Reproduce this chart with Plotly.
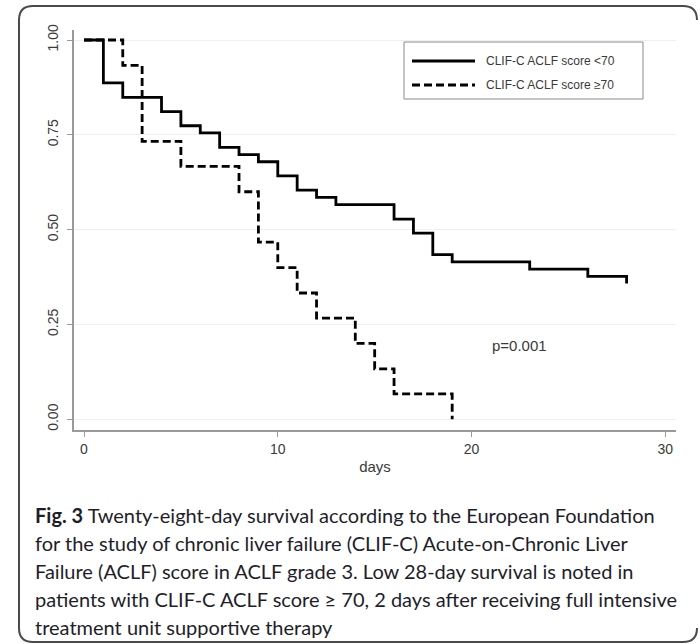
import plotly.graph_objects as go

# ---- data ----
days_low = [0, 1, 2, 4, 5, 6, 7, 8, 9, 10, 11, 12, 13, 16, 17, 18, 19, 23, 26, 28]
surv_low = [1.0, 0.887, 0.849, 0.811, 0.774, 0.755, 0.717, 0.698, 0.679, 0.642,
            0.604, 0.585, 0.566, 0.528, 0.491, 0.434, 0.415, 0.396, 0.377, 0.358]
days_high = [0, 2, 3, 5, 8, 9, 10, 11, 12, 14, 15, 16, 19]
surv_high = [1.0, 0.933, 0.733, 0.667, 0.600, 0.467, 0.400, 0.333, 0.267, 0.200,
             0.133, 0.067, 0.0]
series_names = ["CLIF-C ACLF score <70", "CLIF-C ACLF score \u226570"]
x_ticks = [0, 10, 20, 30]
y_ticks = [0, 0.25, 0.5, 0.75, 1.0]
y_tick_labels = ["0.00", "0.25", "0.50", "0.75", "1.00"]
p_text = "p=0.001"
caption_lines = [
    "<b>Fig. 3</b> Twenty-eight-day survival according to the European Foundation",
    "for the study of chronic liver failure (CLIF-C) Acute-on-Chronic Liver",
    "Failure (ACLF) score in ACLF grade 3. Low 28-day survival is noted in",
    "patients with CLIF-C ACLF score \u2265 70, 2 days after receiving full intensive",
    "treatment unit supportive therapy",
]

W, H = 700, 644
L, R, T, B = 74, 24, 30, 214
PW, PH = W - L - R, H - T - B


def px(x):
    return (x - L) / PW


def py(y):
    return (H - B - y) / PH


TXT = "#3a3a3a"
AX = "#9a9a9a"
FONT = "Liberation Sans, Arial, sans-serif"

fig = go.Figure()
fig.add_trace(go.Scatter(x=days_low, y=surv_low, mode="lines", line_shape="hv",
                         line=dict(color="black", width=2.8), name=series_names[0],
                         showlegend=False))
fig.add_trace(go.Scatter(x=days_high, y=surv_high, mode="lines", line_shape="hv",
                         line=dict(color="black", width=2.8, dash="8px,4px"),
                         name=series_names[1], showlegend=False))

shapes = []
# outer rounded frame (right edge cut by the image border)
l, t, r_, b = 19, 6, 697, 642
rad = 14
pts = [
    ("M", (r_, t + rad)), ("Q", (r_, t), (r_ - rad, t)), ("L", (l + rad, t)),
    ("Q", (l, t), (l, t + rad)), ("L", (l, b - rad)), ("Q", (l, b), (l + rad, b)),
    ("L", (r_ - rad, b)), ("Q", (r_, b), (r_, b - rad)),
]
path = ""
for cmd, *cs in pts:
    path += cmd + " " + " ".join(f"{px(cx):.5f},{py(cy):.5f}" for cx, cy in cs) + " "
shapes.append(dict(type="path", xref="paper", yref="paper", path=path.strip(),
                   line=dict(color="#4a4a4a", width=2)))

# legend box
shapes.append(dict(type="rect", xref="paper", yref="paper",
                   x0=px(404), x1=px(643), y0=py(99), y1=py(42),
                   line=dict(color="#8a8a8a", width=1), fillcolor="white"))
shapes.append(dict(type="line", xref="paper", yref="paper",
                   x0=px(412), x1=px(475), y0=py(61), y1=py(61),
                   line=dict(color="black", width=2.8)))
shapes.append(dict(type="line", xref="paper", yref="paper",
                   x0=px(412), x1=px(475), y0=py(85), y1=py(85),
                   line=dict(color="black", width=2.8, dash="8px,4px")))

annotations = []
for i, name in enumerate(series_names):
    annotations.append(dict(text=name, xref="paper", yref="paper",
                            x=px(484), y=py(61 + 24 * i), xanchor="left", yanchor="middle",
                            showarrow=False, font=dict(family=FONT, size=12, color=TXT)))
annotations.append(dict(text=p_text, xref="paper", yref="paper", x=px(519), y=py(345),
                        xanchor="center", yanchor="middle", showarrow=False,
                        font=dict(family=FONT, size=15, color=TXT)))
for i, line in enumerate(caption_lines):
    annotations.append(dict(text=line, xref="paper", yref="paper", x=px(33),
                            y=py(515 + 28 * i), xanchor="left", yanchor="middle",
                            showarrow=False,
                            font=dict(family="Lato, sans-serif", size=20, color="#1e1e2a")))

fig.update_layout(
    width=W, height=H, margin=dict(l=L, r=R, t=T, b=B),
    paper_bgcolor="white", plot_bgcolor="white",
    shapes=shapes, annotations=annotations, showlegend=False,
    font=dict(family=FONT, color=TXT),
)
fig.update_xaxes(range=[-0.516, 30.55], tickvals=x_ticks, ticks="outside", ticklen=5,
                 tickcolor=AX, tickwidth=1, showline=True, linecolor=AX, linewidth=1.5,
                 showgrid=False, zeroline=False, tickfont=dict(size=14, color=TXT),
                 title=dict(text="days", font=dict(size=15, color=TXT), standoff=6))
fig.update_yaxes(range=[-0.0282, 1.0264], tickvals=y_ticks, ticktext=y_tick_labels,
                 tickangle=-90, ticks="outside", ticklen=5, tickcolor=AX, tickwidth=1,
                 showline=True, linecolor=AX, linewidth=1.5, showgrid=True,
                 gridcolor="#efefef", gridwidth=1, zeroline=False,
                 tickfont=dict(size=14, color=TXT), ticklabelstandoff=4)

fig.write_html("out.html")
